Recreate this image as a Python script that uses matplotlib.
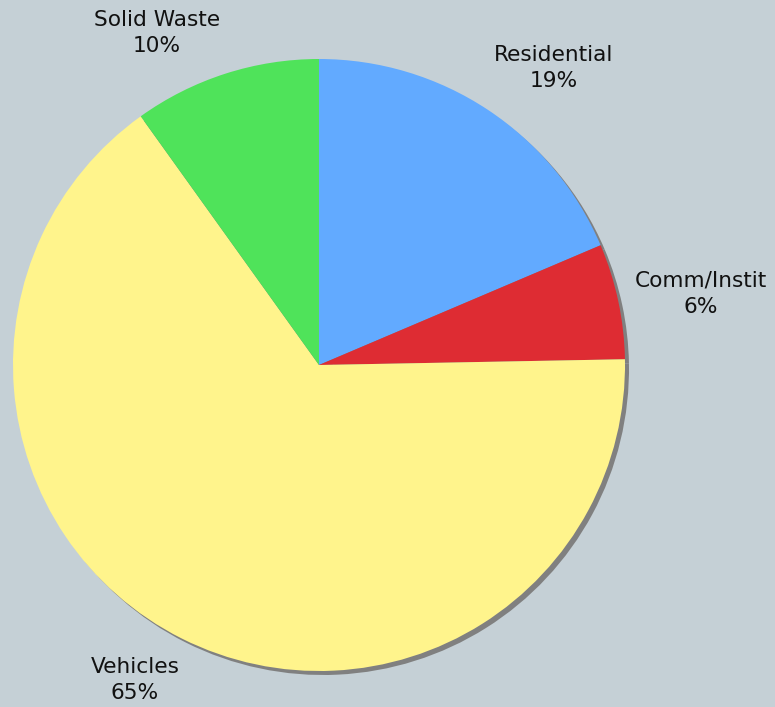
import matplotlib
matplotlib.use("Agg")
import matplotlib.pyplot as plt

categories = ["Residential", "Comm/Instit", "Vehicles", "Solid Waste"]
values = [18.6, 6.1, 65.4, 9.9]
colors = ["#62AAFF", "#DE2C33", "#FFF48C", "#4FE35A"]

W, H = 775, 707
fig = plt.figure(figsize=(W / 100, H / 100), dpi=100)
bg = "#C5D0D6"
fig.patch.set_facecolor(bg)
ax = fig.add_axes([0, 0, 1, 1])
ax.set_facecolor(bg)

cx, cy, r = 319, H - 365, 306
# shadow
ax.pie(values, colors=["#808080"] * len(values), startangle=90, counterclock=False,
       center=(cx + 4, cy - 4), radius=r, wedgeprops=dict(linewidth=0), frame=True)
labels = [f"{c}\n{round(v)}%" for c, v in zip(categories, values)]
wedges, texts = ax.pie(values, colors=colors, startangle=90, counterclock=False,
                       center=(cx, cy), radius=r, labels=labels, labeldistance=1.22,
                       wedgeprops=dict(linewidth=0), frame=True,
                       textprops=dict(fontsize=15.6, color="#111111", ha="center",
                                      va="center", linespacing=1.4, family="DejaVu Sans"))
label_pos = [(554, 68), (701, 294), (135, 680), (157, 33)]
for t, (x, y) in zip(texts, label_pos):
    t.set_position((x, H - y))
    t.set_ha("center")
    t.set_va("center")
ax.set_xlim(0, W)
ax.set_ylim(0, H)
ax.set_aspect("equal")
ax.axis("off")
fig.savefig("out.png", dpi=100, facecolor=bg)
